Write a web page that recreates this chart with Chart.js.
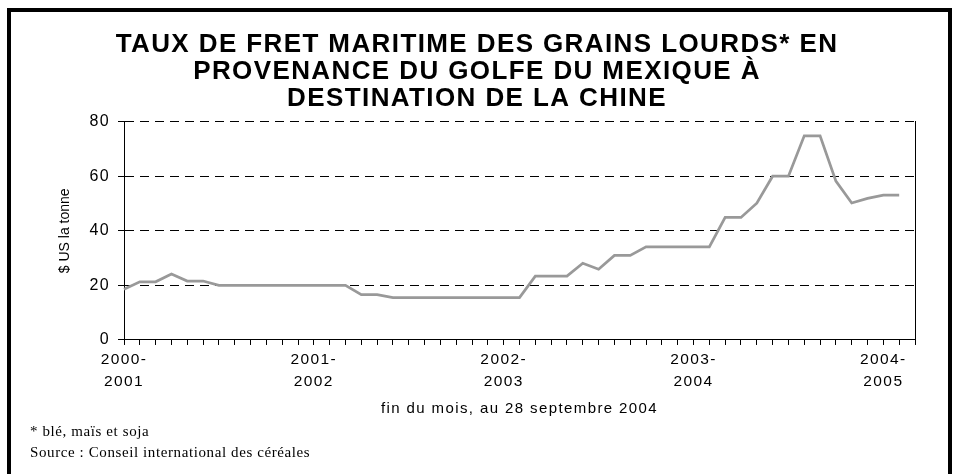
<!DOCTYPE html>
<html>
<head>
<meta charset="utf-8">
<script src="https://cdn.jsdelivr.net/npm/chart.js@4.4.1/dist/chart.umd.min.js"></script>
<style>
  html, body { margin: 0; padding: 0; background: #fff; overflow: hidden; }
  #wrap { position: relative; width: 954px; height: 474px; }
  #frame { position: absolute; left: 7px; top: 8px; width: 937px; height: 500px; border: 4px solid #000; box-sizing: content-box; }
  canvas { position: absolute; left: 0; top: 0; }
  .note { position: absolute; left: 30px; font-family: "Liberation Serif", "Times New Roman", serif; font-size: 15px; letter-spacing: 0.6px; color: #000; white-space: nowrap; }
</style>
</head>
<body>
<div id="wrap">
  <div id="frame"></div>
  <canvas id="chart" width="954" height="474"></canvas>
  <div class="note" style="top:423px">* blé, maïs et soja</div>
  <div class="note" style="top:444px">Source : Conseil international des céréales</div>
</div>
<script>
// fin du mois, juillet 2000 -> septembre 2004 ($ US la tonne)
var freightRates = [18.6, 21.3, 21.3, 24.2, 21.6, 21.6,
    20, 20, 20, 20, 20, 20, 20, 20, 20,
    16.6, 16.6,
    15.5, 15.5, 15.5, 15.5, 15.5, 15.5, 15.5, 15.5, 15.5,
    23.4, 23.4, 23.4, 28.1, 25.9, 31.0, 31.0,
    34.1, 34.1, 34.1, 34.1, 34.1,
    44.9, 44.9, 50.1, 60, 60, 74.8, 74.8, 58.2, 50.2, 51.9, 53.1, 53.1, null];
var seasonLabels = [['2000-', '2001'], ['2001-', '2002'], ['2002-', '2003'], ['2003-', '2004'], ['2004-', '2005']];
var yTicks = [0, 20, 40, 60, 80];

var labels = freightRates.map(function (v, i) {
    return i % 12 === 0 ? seasonLabels[i / 12] : '';
});

// tracking of the original export, plain y title
var spacing = {
    id: 'spacing',
    beforeDraw: function (chart) {
        var y = chart.scales.y;
        if (!y._plainTitle) {
            var orig = y.drawTitle;
            y.drawTitle = function () {
                var prev = this.ctx.letterSpacing;
                this.ctx.letterSpacing = '0px';
                orig.apply(this, arguments);
                this.ctx.letterSpacing = prev;
            };
            y._plainTitle = true;
        }
        chart.ctx.letterSpacing = '1.4px';
    },
    afterDraw: function (chart) {
        chart.ctx.letterSpacing = '0px';
    }
};

Chart.defaults.font.family = '"Liberation Sans", Arial, sans-serif';
Chart.defaults.color = '#000';

new Chart('chart', {
    type: 'line',
    data: {
        labels: labels,
        datasets: [{
            data: freightRates,
            borderColor: '#999999',
            borderWidth: 2.75,
            pointRadius: 0,
            tension: 0,
            fill: false
        }]
    },
    options: {
        responsive: false,
        animation: false,
        devicePixelRatio: 1,
        layout: { padding: { left: 0, right: 0, top: 0, bottom: 56 } },
        plugins: {
            legend: { display: false },
            tooltip: { enabled: false },
            title: {
                display: true,
                text: ['TAUX DE FRET MARITIME DES GRAINS LOURDS* EN',
                       'PROVENANCE DU GOLFE DU MEXIQUE À',
                       'DESTINATION DE LA CHINE'],
                color: '#000',
                font: { size: 26, weight: 'bold', lineHeight: 1.04 },
                padding: { top: 31.5, bottom: 9 }
            }
        },
        scales: {
            x: {
                offset: false,
                grid: { display: true, drawOnChartArea: false, tickLength: 5, color: '#000', tickColor: '#000' },
                border: { color: '#000', width: 1 },
                ticks: {
                    autoSkip: false, maxRotation: 0, minRotation: 0, padding: 3.5,
                    font: { size: 15.5, lineHeight: 1.42 }
                },
                title: {
                    display: true,
                    text: 'fin du mois, au 28 septembre 2004',
                    font: { size: 15, lineHeight: 1.2 },
                    padding: { top: 4, bottom: 0 }
                }
            },
            y: {
                min: 0,
                max: 80,
                afterBuildTicks: function (scale) {
                    scale.ticks = yTicks.map(function (v) { return { value: v }; });
                },
                afterFit: function (scale) { scale.width = 124; },
                grid: { color: '#000', tickLength: 6, tickColor: '#000', tickBorderDash: [] },
                border: { color: '#000', width: 1, dash: [9, 6] },
                ticks: { padding: 8, font: { size: 16 } },
                title: {
                    display: true,
                    text: '$ US la tonne',
                    font: { size: 14, lineHeight: 1.2 },
                    padding: { top: 57, bottom: 0 }
                }
            },
            y2: {
                position: 'right',
                axis: 'y',
                display: true,
                afterFit: function (scale) { scale.width = 39; },
                grid: { display: false, drawTicks: false },
                border: { display: true, color: '#000', width: 1 },
                ticks: { display: false }
            }
        }
    },
    plugins: [spacing]
});
</script>
</body>
</html>
